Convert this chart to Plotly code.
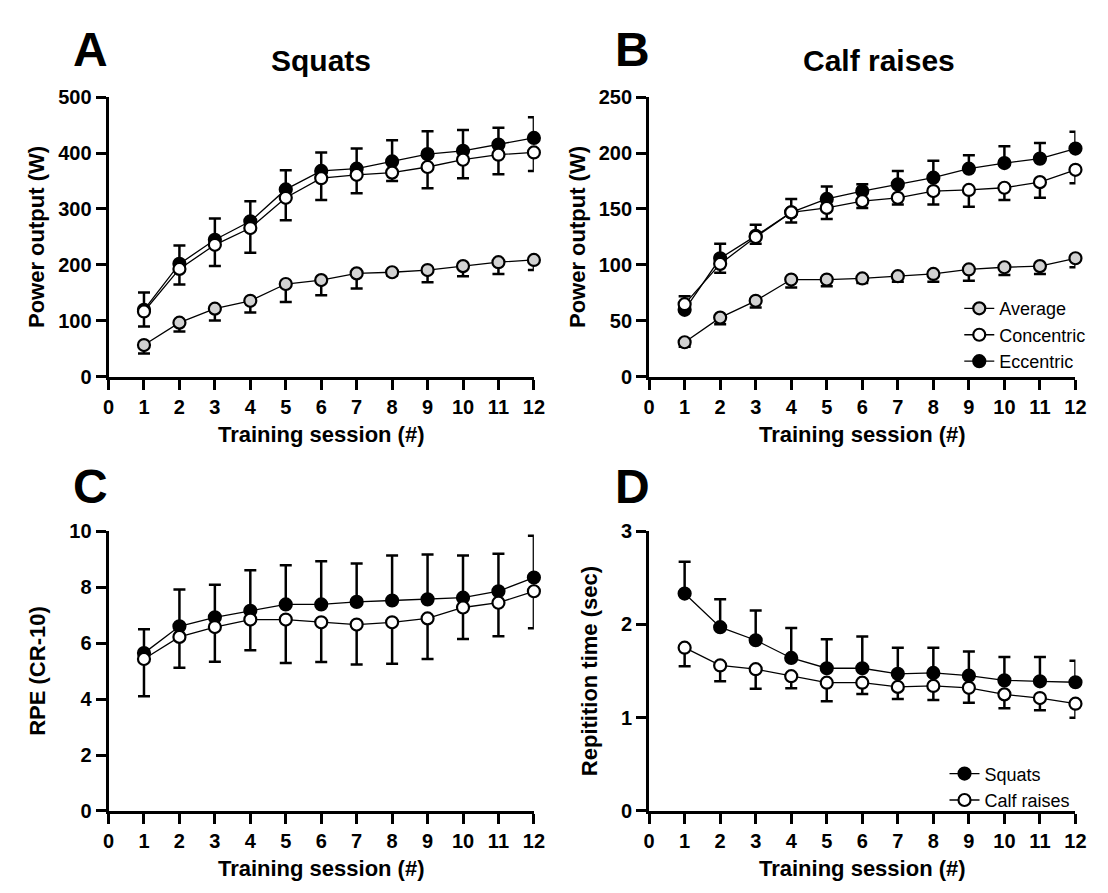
import plotly.graph_objects as go

# ---------------- data ----------------
sessions = list(range(1, 13))
x_ticks = list(range(0, 13))

squat_avg = [57, 97, 122, 136, 166, 173, 185, 187, 191, 198, 205, 209]
squat_avg_sd = [15, 16, 21, 21, 32, 27, 27, 6, 22, 18, 21, 18]
squat_con = [117, 193, 236, 266, 320, 355, 361, 365, 375, 388, 397, 401]
squat_con_sd = [27, 28, 38, 44, 40, 39, 33, 15, 38, 33, 35, 33]
squat_ecc = [120, 202, 245, 278, 335, 368, 372, 385, 398, 404, 415, 427]
squat_ecc_sd = [31, 33, 38, 36, 34, 33, 36, 38, 41, 37, 30, 37]

calf_avg = [31, 53, 68, 87, 87, 88, 90, 92, 96, 98, 99, 106]
calf_avg_sd = [4, 6, 6, 7, 6, 4, 5, 7, 10, 7, 7, 8]
calf_con = [65, 101, 125, 147, 151, 157, 160, 166, 167, 169, 174, 185]
calf_con_sd = [7, 8, 6, 9, 10, 6, 6, 12, 15, 11, 14, 12]
calf_ecc = [60, 106, 126, 147, 159, 166, 172, 178, 186, 191, 195, 204]
calf_ecc_sd = [12, 13, 10, 12, 11, 6, 12, 15, 12, 15, 14, 15]

rpe_squat = [5.64, 6.60, 6.92, 7.15, 7.38, 7.38, 7.47, 7.52, 7.56, 7.62, 7.85, 8.34]
rpe_squat_sd = [0.85, 1.31, 1.16, 1.45, 1.40, 1.54, 1.37, 1.61, 1.60, 1.51, 1.34, 1.49]
rpe_calf = [5.43, 6.22, 6.57, 6.84, 6.84, 6.74, 6.66, 6.74, 6.88, 7.27, 7.44, 7.85]
rpe_calf_sd = [1.33, 1.10, 1.24, 1.10, 1.55, 1.42, 1.43, 1.48, 1.45, 1.13, 1.20, 1.32]

rep_squat = [2.33, 1.97, 1.83, 1.64, 1.53, 1.53, 1.47, 1.48, 1.45, 1.40, 1.39, 1.38]
rep_squat_sd = [0.34, 0.30, 0.32, 0.32, 0.31, 0.34, 0.28, 0.27, 0.26, 0.25, 0.26, 0.23]
rep_calf = [1.75, 1.56, 1.52, 1.445, 1.375, 1.375, 1.33, 1.34, 1.32, 1.25, 1.21, 1.15]
rep_calf_sd = [0.20, 0.17, 0.21, 0.13, 0.20, 0.12, 0.13, 0.15, 0.16, 0.15, 0.13, 0.15]

# ---------------- styling ----------------
W, H = 1108, 893
FONT = "Liberation Sans, Arial, Helvetica, sans-serif"
GRAY = "#d2d2d2"


def px(x):
    return x / W


def py(y):
    return 1 - y / H


def zeros(n):
    return [0] * n


fig = go.Figure()


def add_series(xa, ya, y, sd, fill, name, up, legend=None, rank=1):
    n = len(y)
    fig.add_trace(go.Scatter(
        x=sessions, y=y, xaxis=xa, yaxis=ya, name=name,
        mode="lines+markers",
        line=dict(color="black", width=1.3),
        marker=dict(symbol="circle", size=12, color=fill,
                    line=dict(color="black", width=2.2)),
        error_y=dict(type="data", symmetric=False,
                     array=sd if up else zeros(n),
                     arrayminus=zeros(n) if up else sd,
                     color="black", thickness=2.5, width=6),
        cliponaxis=False,
        showlegend=legend is not None,
        legend=legend if legend else "legend",
        legendrank=rank,
    ))


# Panel A
add_series("x", "y", squat_ecc, squat_ecc_sd, "black", "Eccentric", True)
add_series("x", "y", squat_con, squat_con_sd, "white", "Concentric", False)
add_series("x", "y", squat_avg, squat_avg_sd, GRAY, "Average", False)
# Panel B
add_series("x2", "y2", calf_ecc, calf_ecc_sd, "black", "Eccentric", True, "legend", 3)
add_series("x2", "y2", calf_con, calf_con_sd, "white", "Concentric", False, "legend", 2)
add_series("x2", "y2", calf_avg, calf_avg_sd, GRAY, "Average", False, "legend", 1)
# Panel C
add_series("x3", "y3", rpe_squat, rpe_squat_sd, "black", "Squats", True)
add_series("x3", "y3", rpe_calf, rpe_calf_sd, "white", "Calf raises", False)
# Panel D
add_series("x4", "y4", rep_squat, rep_squat_sd, "black", "Squats", True, "legend2", 1)
add_series("x4", "y4", rep_calf, rep_calf_sd, "white", "Calf raises", False, "legend2", 2)

tickfont = dict(family=FONT, size=20, color="black", weight="bold")
titlefont = dict(family=FONT, size=22, color="black", weight="bold")

common_axis = dict(
    showline=True, linecolor="black", linewidth=3,
    ticks="outside", ticklen=10, tickwidth=3, tickcolor="black",
    showgrid=False, zeroline=False, tickfont=tickfont,
)

xdom_left = [px(96), px(528)]
xdom_right = [px(645), px(1078)]
ydom_top = [py(367), py(80)]
ydom_bot = [py(812), py(525)]


def xaxis(dom, anchor):
    return dict(common_axis, domain=dom, anchor=anchor, range=[0, 12],
                tickmode="array", tickvals=x_ticks, ticktext=[str(t) for t in x_ticks],
                title=dict(text="Training session (#)", font=titlefont, standoff=10))


def yaxis(dom, anchor, rng, dtick, title, standoff):
    return dict(common_axis, domain=dom, anchor=anchor, range=rng,
                tick0=0, dtick=dtick,
                title=dict(text=title, font=titlefont, standoff=standoff))


legend_font = dict(family=FONT, size=18, color="black")

fig.update_layout(
    width=W, height=H,
    margin=dict(l=0, r=0, t=0, b=0),
    paper_bgcolor="white", plot_bgcolor="white",
    font=dict(family=FONT, color="black"),
    xaxis=xaxis(xdom_left, "y"),
    yaxis=yaxis(ydom_top, "x", [0, 500], 100, "Power output (W)", 8),
    xaxis2=xaxis(xdom_right, "y2"),
    yaxis2=yaxis(ydom_top, "x2", [0, 250], 50, "Power output (W)", 8),
    xaxis3=xaxis(xdom_left, "y3"),
    yaxis3=yaxis(ydom_bot, "x3", [0, 10], 2, "RPE (CR-10)", 18),
    xaxis4=xaxis(xdom_right, "y4"),
    yaxis4=yaxis(ydom_bot, "x4", [0, 3], 1, "Repitition time (sec)", 18),
    legend=dict(x=px(960), y=py(278), xanchor="left", yanchor="top",
                bgcolor="rgba(0,0,0,0)", font=legend_font,
                traceorder="normal", itemwidth=30),
    legend2=dict(x=px(945), y=py(755), xanchor="left", yanchor="top",
                 bgcolor="rgba(0,0,0,0)", font=legend_font,
                 traceorder="normal", itemwidth=30),
)

letter_font = dict(family=FONT, size=48, color="black", weight="bold")
head_font = dict(family=FONT, size=30, color="black", weight="bold")
annos = [
    ("A", 78, 31, letter_font), ("B", 628, 31, letter_font),
    ("C", 78, 479, letter_font), ("D", 628, 479, letter_font),
    ("Squats", 312, 43, head_font), ("Calf raises", 878, 43, head_font),
]
for text, ax, ay, f in annos:
    fig.add_annotation(text=text, x=px(ax), y=py(ay), xref="paper", yref="paper",
                       xanchor="center", yanchor="middle", showarrow=False, font=f)

fig.write_html("out.html")
